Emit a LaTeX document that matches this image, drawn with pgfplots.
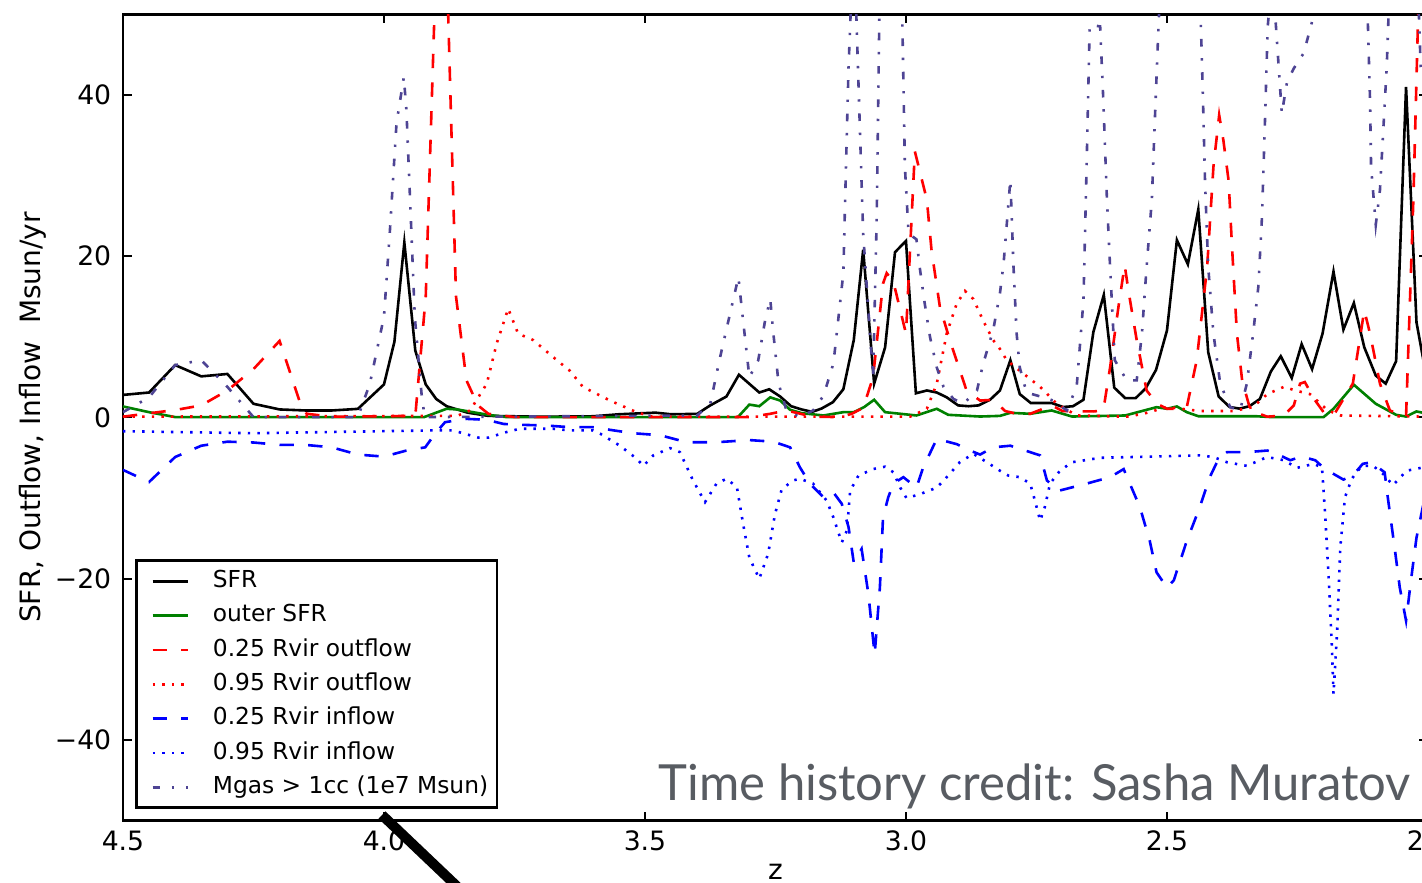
\documentclass[border=0pt]{standalone}
\usepackage{fontspec}
\setmainfont{DejaVu Sans}
\newfontfamily\creditfont{Lato}
\usepackage{graphicx}
\usepackage{pgfplots}
\pgfplotsset{compat=1.18}
\definecolor{slate}{RGB}{78,68,148}
\definecolor{mplgreen}{RGB}{0,128,0}
\definecolor{creditgray}{RGB}{88,92,98}

\begin{document}
\begin{tikzpicture}
\useasboundingbox (-36.9pt,-18.7pt) rectangle (389.7pt,246.2pt);
\clip (-36.9pt,-18.7pt) rectangle (389.7pt,246.2pt);
\begin{axis}[
  at={(0,0)}, anchor=south west,
  scale only axis, width=391.5pt, height=241.9pt,
  x dir=reverse, xmin=2, xmax=4.5, ymin=-50, ymax=50,
  xtick={2,2.5,3,3.5,4,4.5}, xticklabels={2.0,2.5,3.0,3.5,4.0,4.5},
  ytick={-40,-20,0,20,40}, yticklabels={−40,−20,0,20,40},
  tick align=inside, tick pos=both, major tick length=2.7pt,
  tick style={black, line width=0.6pt},
  axis line style={line width=0.8pt},
  ticklabel style={font=\fontsize{8}{9.5}\selectfont},
  xticklabel style={yshift=0.4pt},
  xlabel={z}, ylabel={SFR, Outflow, Inflow\ \ Msun/yr},
  label style={font=\fontsize{8.4}{10}\selectfont},
  xlabel style={at={(axis description cs:0.5,-0.063)}, anchor=center},
  ylabel style={at={(axis description cs:-0.069,0.5)}, anchor=center},
  clip mode=individual,
  every axis plot/.append style={line width=0.78pt},
  legend cell align=left,
  legend image code/.code={\path (0pt,0pt); \draw[#1, line width=0.78pt] (3pt,0pt) -- (13.5pt,0pt);},
  legend style={at={(axis description cs:0.0092,0.0144)}, anchor=south west,
    draw=black, line width=0.8pt, font=\fontsize{7}{8}\selectfont,
    inner xsep=1.5pt, inner ysep=1.5pt, row sep=1pt, column sep=6pt,
    nodes={inner sep=1.2pt, text height=5.3pt, text depth=1.6pt}},
]
% SFR
\addplot[black] coordinates {
(4.50,2.8)(4.45,3.1)(4.40,6.5)(4.35,5.1)(4.30,5.4)(4.25,1.7)(4.20,1.0)(4.15,0.87)(4.10,0.87)(4.05,1.07)
(4.00,4.1)(3.98,9.4)(3.961,21.7)(3.94,8.3)(3.92,4.1)(3.90,2.3)(3.88,1.4)(3.86,1.0)(3.84,0.6)(3.80,0.2)
(3.70,0.1)(3.60,0.15)(3.55,0.4)(3.516,0.5)(3.48,0.6)(3.45,0.4)(3.40,0.45)(3.375,1.5)(3.344,2.6)(3.32,5.3)
(3.281,3.1)(3.262,3.5)(3.241,2.6)(3.22,1.4)(3.20,1.0)(3.18,0.7)(3.162,1.1)(3.14,1.9)(3.12,3.5)(3.10,9.6)
(3.082,20.8)(3.061,4.2)(3.04,8.7)(3.021,20.5)(3.00,21.9)(2.981,3.0)(2.96,3.35)(2.941,3.1)(2.922,2.5)(2.90,1.5)
(2.88,1.4)(2.861,1.5)(2.839,2.2)(2.82,3.35)(2.80,7.1)(2.782,2.9)(2.761,1.8)(2.741,1.8)(2.721,1.8)(2.699,1.3)
(2.68,1.4)(2.66,2.2)(2.641,10.6)(2.621,15.2)(2.601,3.7)(2.58,2.4)(2.56,2.4)(2.541,3.6)(2.521,5.9)(2.50,10.8)
(2.481,22.0)(2.46,19.0)(2.44,25.8)(2.421,8.1)(2.401,2.6)(2.38,1.3)(2.361,1.1)(2.342,1.4)(2.322,2.3)(2.301,5.7)
(2.282,7.6)(2.261,4.9)(2.242,9.1)(2.222,6.0)(2.202,10.4)(2.181,18.1)(2.162,10.9)(2.142,14.2)(2.122,8.7)(2.10,5.2)
(2.081,4.2)(2.061,7.0)(2.042,41.0)(2.022,11.8)(2.00,4.0)
};
\addlegendentry{SFR}
% outer SFR
\addplot[mplgreen] coordinates {
(4.50,1.37)(4.45,0.66)(4.40,0.05)(4.00,0.05)(3.923,0.05)(3.90,0.6)(3.88,1.08)(3.86,1.0)(3.80,0.33)(3.765,0.05)
(3.322,0.05)(3.30,1.6)(3.281,1.4)(3.26,2.5)(3.241,2.1)(3.222,0.96)(3.20,0.54)(3.158,0.25)(3.12,0.66)(3.10,0.66)
(3.08,1.3)(3.061,2.2)(3.04,0.66)(2.98,0.25)(2.941,1.08)(2.919,0.33)(2.858,0.12)(2.82,0.2)(2.80,0.58)(2.762,0.46)
(2.721,0.87)(2.682,0.12)(2.58,0.25)(2.52,1.28)(2.50,1.08)(2.481,1.37)(2.462,0.66)(2.44,0.16)(2.33,0.16)(2.30,0.05)
(2.20,0.05)(2.181,1.08)(2.142,4.06)(2.10,1.7)(2.061,0.33)(2.042,0.12)(2.022,0.75)(2.00,0.46)
};
\addlegendentry{outer SFR}
% 0.25 Rvir outflow
\addplot[red, dash pattern=on 4.3pt off 4.3pt] coordinates {
(4.50,0.1)(4.397,0.96)(4.35,1.5)(4.30,3.35)(4.25,6.0)(4.20,9.5)(4.158,1.3)(4.148,0.46)(4.10,0.1)(3.94,0.2)
(3.92,15)(3.90,57)(3.88,57)(3.862,15)(3.842,4.6)(3.82,1.5)(3.80,0.46)(3.75,0.05)(3.30,0.05)(3.26,0.46)
(3.229,0.87)(3.178,0.1)(3.126,0.05)(3.104,0.46)(3.082,1.2)(3.063,5.0)(3.044,16.6)(3.037,17.9)(3.024,16.8)(3.00,10.4)
(2.983,33.0)(2.96,27.0)(2.951,20.7)(2.935,13.7)(2.916,9.6)(2.884,3.35)(2.858,2.1)(2.833,2.2)(2.81,0.8)(2.788,0.46)
(2.762,0.46)(2.721,1.5)(2.70,0.8)(2.641,0.75)(2.622,0.87)(2.609,6.2)(2.593,13.7)(2.581,18.9)(2.574,15.8)(2.558,9.6)
(2.539,3.35)(2.519,1.7)(2.50,1.08)(2.481,1.08)(2.462,1.3)(2.443,7.1)(2.423,18.7)(2.411,31.1)(2.40,37.5)(2.392,34.4)
(2.382,29.4)(2.375,20.7)(2.366,10.4)(2.356,4.6)(2.34,0.87)(2.308,0.1)(2.276,0.25)(2.257,1.5)(2.245,4.2)(2.236,4.4)
(2.216,2.1)(2.20,0.66)(2.181,0.25)(2.144,4.2)(2.122,13.3)(2.111,10.4)(2.092,4.2)(2.073,0.87)(2.042,0.1)(2.028,27)
(2.018,52)(2.01,60)(2.00,55)
};
\addlegendentry{0.25 Rvir outflow}
% 0.95 Rvir outflow
\addplot[red, dash pattern=on 0.72pt off 2.16pt] coordinates {
(4.50,0.1)(3.86,0.2)(3.835,0.87)(3.803,4.2)(3.784,9.2)(3.762,13.5)(3.743,10.4)(3.714,9.6)(3.676,7.5)(3.644,5.8)
(3.619,3.8)(3.567,2.1)(3.516,0.66)(3.486,0.1)(2.992,0.1)(2.96,1.08)(2.941,4.2)(2.922,10.4)(2.903,14.1)(2.887,15.7)
(2.871,14.7)(2.852,12.0)(2.833,9.6)(2.82,8.5)(2.807,7.1)(2.782,5.8)(2.743,3.8)(2.711,1.7)(2.673,0.25)(2.577,0.1)
(2.545,0.46)(2.50,1.3)(2.437,0.8)(2.373,0.8)(2.335,1.3)(2.308,2.9)(2.276,3.8)(2.254,3.35)(2.226,2.9)(2.192,0.87)
(2.167,0.25)(2.00,0.1)
};
\addlegendentry{0.95 Rvir outflow}
% 0.25 Rvir inflow
\addplot[blue, dash pattern=on 4.3pt off 4.3pt] coordinates {
(4.50,-6.5)(4.45,-8.0)(4.40,-4.9)(4.35,-3.5)(4.30,-3.0)(4.25,-3.1)(4.20,-3.4)(4.15,-3.4)(4.10,-3.7)(4.05,-4.6)
(4.00,-4.85)(3.957,-4.1)(3.921,-3.7)(3.902,-2.0)(3.883,-0.58)(3.842,-0.17)(3.803,-0.29)(3.771,-0.8)(3.74,-0.9)(3.688,-1.0)
(3.644,-1.2)(3.60,-1.2)(3.56,-1.6)(3.523,-1.95)(3.471,-2.2)(3.42,-3.07)(3.363,-3.07)(3.324,-2.9)(3.30,-2.8)(3.254,-3.0)
(3.222,-3.7)(3.203,-6.2)(3.184,-8.2)(3.158,-9.9)(3.139,-9.3)(3.123,-10.7)(3.11,-13.6)(3.10,-18.0)(3.085,-16.3)(3.072,-21.9)
(3.06,-29.4)(3.05,-21.1)(3.044,-12.4)(3.034,-9.9)(3.024,-8.2)(3.005,-7.4)(2.98,-8.7)(2.967,-6.2)(2.941,-2.65)(2.903,-3.3)
(2.877,-4.1)(2.858,-4.6)(2.833,-3.7)(2.80,-3.5)(2.743,-4.7)(2.730,-7.8)(2.708,-9.1)(2.654,-8.2)(2.609,-7.4)(2.583,-6.4)
(2.552,-11.1)(2.533,-15.3)(2.52,-19.2)(2.50,-21.1)(2.487,-20.2)(2.462,-15.3)(2.437,-11.1)(2.418,-7.4)(2.401,-5.1)(2.385,-4.3)
(2.347,-4.3)(2.308,-4.1)(2.296,-4.3)(2.264,-5.3)(2.242,-4.85)(2.216,-5.3)(2.197,-6.4)(2.162,-7.7)(2.144,-7.2)(2.125,-5.75)
(2.109,-5.55)(2.083,-6.8)(2.077,-9.9)(2.064,-16.1)(2.054,-21.1)(2.042,-25.2)(2.031,-19.4)(2.022,-14.9)(2.00,-8)
};
\addlegendentry{0.25 Rvir inflow}
% 0.95 Rvir inflow
\addplot[blue, dash pattern=on 0.72pt off 2.16pt] coordinates {
(4.50,-1.7)(4.25,-1.95)(3.906,-1.6)(3.868,-1.6)(3.819,-2.5)(3.80,-2.5)(3.765,-1.8)(3.74,-1.4)(3.676,-1.4)(3.644,-1.6)
(3.60,-1.6)(3.586,-2.0)(3.548,-3.5)(3.516,-5.1)(3.503,-6.0)(3.484,-4.7)(3.452,-3.8)(3.433,-4.3)(3.408,-7.8)(3.385,-10.5)
(3.363,-8.2)(3.344,-7.6)(3.324,-8.6)(3.312,-13.2)(3.30,-17.4)(3.281,-20.0)(3.264,-16.9)(3.251,-12.0)(3.238,-8.9)(3.216,-7.8)
(3.203,-7.6)(3.178,-8.2)(3.152,-10.3)(3.139,-12.4)(3.123,-15.5)(3.113,-14.0)(3.107,-9.1)(3.091,-7.2)(3.063,-6.4)(3.04,-6.1)
(3.024,-6.8)(3.011,-8.7)(2.999,-10.0)(2.973,-9.5)(2.941,-8.7)(2.919,-7.2)(2.897,-5.55)(2.871,-4.5)(2.845,-5.55)(2.82,-6.6)
(2.804,-7.2)(2.782,-7.4)(2.762,-8.2)(2.753,-10.3)(2.743,-12.8)(2.734,-11.1)(2.724,-8.2)(2.705,-6.6)(2.682,-5.55)(2.628,-5.0)
(2.437,-4.7)(2.411,-4.9)(2.385,-5.55)(2.347,-6.0)(2.308,-4.9)(2.276,-5.3)(2.251,-6.25)(2.219,-5.75)(2.203,-6.2)(2.197,-12.0)
(2.19,-20.2)(2.184,-28.5)(2.181,-34.3)(2.174,-26.5)(2.168,-16.1)(2.159,-9.9)(2.146,-7.6)(2.127,-6.0)(2.105,-6.0)(2.086,-7.0)
(2.067,-8.4)(2.041,-6.6)(2.014,-6.25)(2.00,-6)
};
\addlegendentry{0.95 Rvir inflow}
% Mgas > 1cc
\addplot[slate, dash pattern=on 2.3pt off 3.5pt on 0.72pt off 3.5pt] coordinates {
(4.50,0.66)(4.45,2.5)(4.40,6.5)(4.35,7.1)(4.30,3.8)(4.25,0.05)(4.05,0.05)(4.027,4.2)(4.00,12.5)(3.989,22.8)
(3.976,36.5)(3.962,42.2)(3.957,38.1)(3.95,27.0)(3.941,12.5)(3.928,2.9)(3.922,0.05)(3.40,0.25)(3.375,1.7)(3.356,7.5)
(3.337,12.9)(3.321,17.4)(3.312,12.0)(3.30,5.0)(3.283,7.1)(3.27,12.0)(3.26,14.7)(3.254,10.4)(3.244,4.2)(3.229,0.87)
(3.203,0.05)(3.178,0.87)(3.158,2.7)(3.139,6.7)(3.12,17.9)(3.115,31)(3.11,43.5)(3.10,60)(3.088,35.2)(3.082,22.8)
(3.069,10.4)(3.063,5.0)(3.056,25)(3.05,55)(3.03,80)(3.01,60)(3.002,31)(2.995,22.8)(2.98,22.1)(2.973,18.3)
(2.964,14.1)(2.954,10)(2.941,6.2)(2.928,3.8)(2.909,2.3)(2.89,1.7)(2.864,3.35)(2.852,6.7)(2.833,10.8)(2.82,15.4)
(2.813,19.1)(2.80,29.5)(2.794,18.7)(2.788,10.4)(2.782,6.2)(2.769,3.1)(2.737,2.5)(2.718,2.1)(2.692,0.87)(2.673,3.8)
(2.66,14.5)(2.654,31.1)(2.648,48.7)(2.628,48.5)(2.622,39.4)(2.615,27)(2.609,18.7)(2.60,7.1)(2.577,4.6)(2.558,4.6)
(2.548,10.4)(2.539,18.7)(2.529,27)(2.523,37.3)(2.516,48.9)(2.50,70)(2.47,70)(2.44,60)(2.431,39.4)(2.427,29)
(2.421,18.7)(2.411,10.4)(2.398,4.2)(2.379,1.3)(2.36,0.87)(2.347,4.2)(2.335,10.4)(2.325,16.2)(2.318,24.9)(2.312,37.3)
(2.307,48.5)(2.298,55)(2.286,43.5)(2.28,37.7)(2.270,41.6)(2.257,43.3)(2.238,45.2)(2.222,49.1)(2.20,60)(2.15,70)
(2.12,60)(2.111,39.4)(2.109,31.1)(2.10,23.9)(2.092,28.2)(2.086,35.2)(2.079,43.5)(2.07,60)(2.04,70)(2.02,55)
(2.014,43.5)(2.00,40)
};
\addlegendentry{Mgas > 1cc (1e7 Msun)}
\node[anchor=base west, inner sep=0pt, text=creditgray] at (axis cs:3.4745,-47.44)
  {\resizebox{225.5pt}{11pt}{\creditfont Time history credit: Sasha Muratov}};
\coordinate (ds) at (axis cs:4.0038,-49.3);
\coordinate (de) at (axis cs:3.8544,-58.5);
\end{axis}
\draw[line width=3pt] (ds) -- (de);
\end{tikzpicture}
\end{document}
